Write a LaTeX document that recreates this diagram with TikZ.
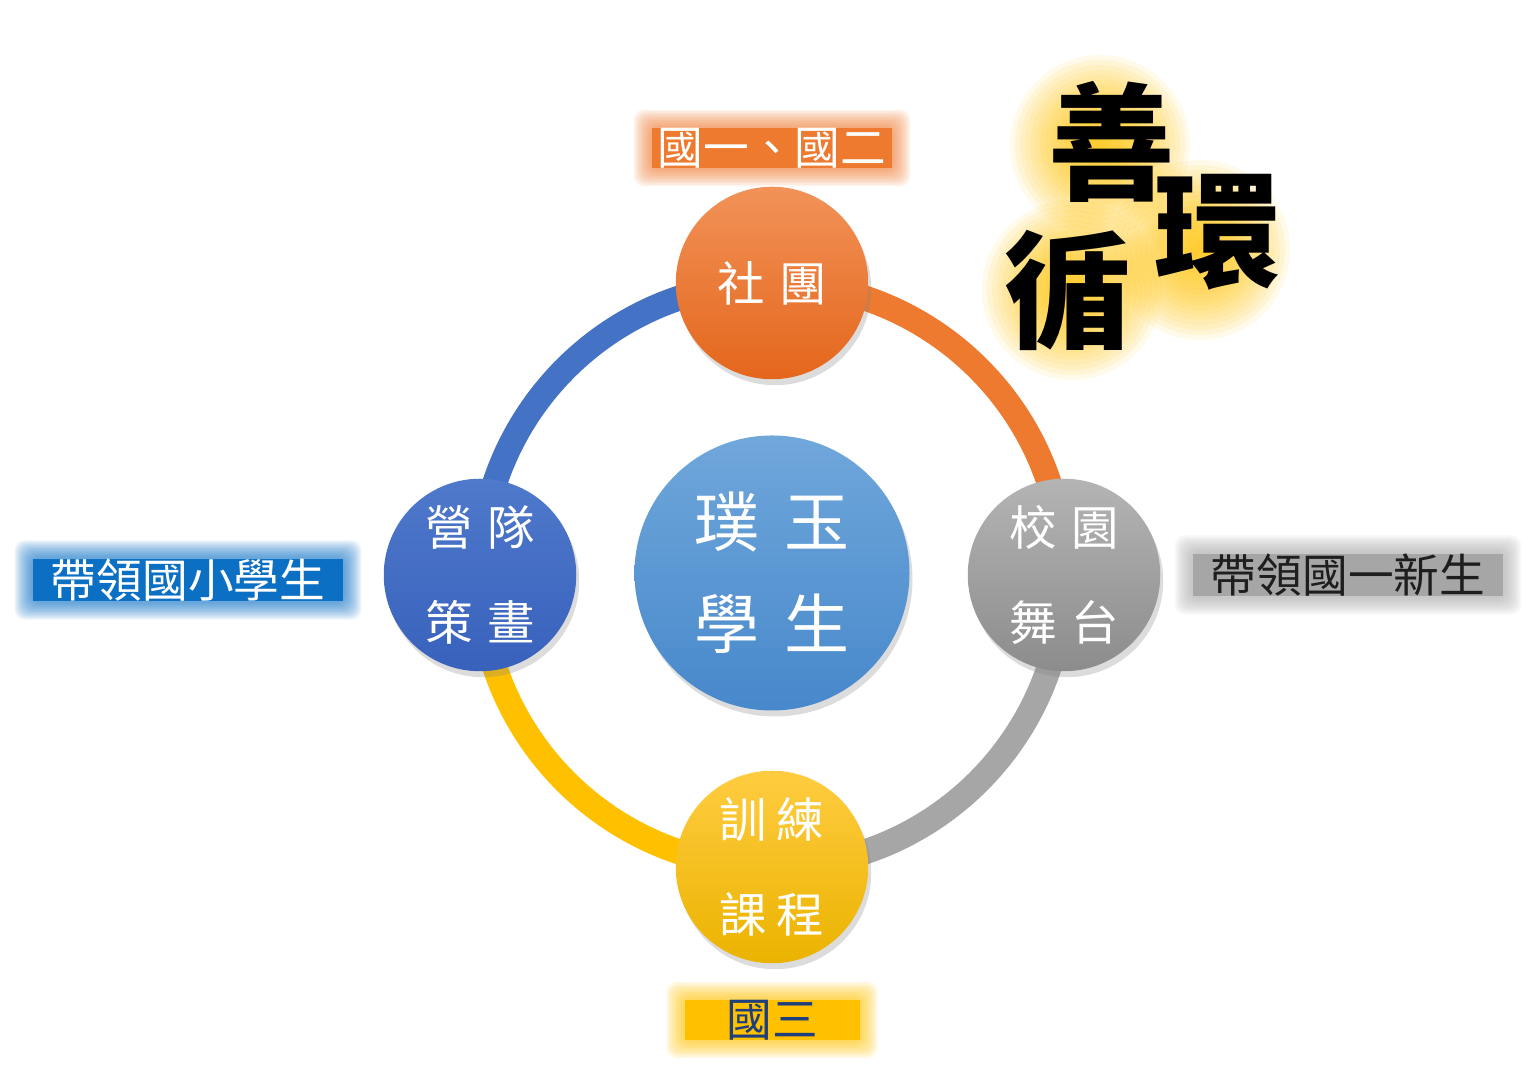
\documentclass[tikz,border=0pt]{standalone}
\usepackage{fontspec}
\setmainfont{Noto Sans CJK TC}
\usetikzlibrary{shadows,backgrounds,calc}
\definecolor{ink}{HTML}{1E1E1E}
\definecolor{navy}{HTML}{1F3E7C}
\definecolor{orng}{HTML}{EE7A30}
\definecolor{orngl}{HTML}{F29258}
\definecolor{orngd}{HTML}{E4661C}
\definecolor{blu}{HTML}{4472C4}
\definecolor{blul}{HTML}{4F79CB}
\definecolor{blud}{HTML}{3861BC}
\definecolor{gry}{HTML}{A6A6A6}
\definecolor{gryl}{HTML}{B4B4B4}
\definecolor{gryd}{HTML}{8C8C8C}
\definecolor{gold}{HTML}{FFC000}
\definecolor{goldl}{HTML}{FFCC40}
\definecolor{goldd}{HTML}{EBB300}
\definecolor{sky}{HTML}{70A7DB}
\definecolor{skyd}{HTML}{4788CB}
\definecolor{sea}{HTML}{0B6FC3}

\begin{document}
\begin{tikzpicture}[x=0.2mm,y=0.2mm,
  ball/.style={circle,inner sep=0pt,minimum size=38.5mm,text=white,align=center,
    font=\fontsize{27}{54}\selectfont,
    drop shadow={opacity=.28,shadow xshift=.6mm,shadow yshift=-1.2mm}},
  ring/.style={line width=5mm},
  tag/.style={inner sep=0pt,minimum height=7.5mm,font=\fontsize{26}{26}\selectfont},
  glowy/.style={fill=gold,opacity=.085},
  brush/.style={inner sep=0pt,text=black,font=\fontsize{72}{72}\selectfont\bfseries}]
  \useasboundingbox (0,0) rectangle (1534,1080);

  \node[ball,top color=orngl,bottom color=orngd] (club) at (772,797) {社\hspace{3mm}團};
  \node[ball,top color=blul,bottom color=blud] (camp) at (480,505) {營\hspace{3mm}隊\\策\hspace{3mm}畫};
  \node[ball,top color=gryl,bottom color=gryd] (stage) at (1064,505) {校\hspace{3mm}園\\舞\hspace{3mm}台};
  \node[ball,top color=goldl,bottom color=goldd] (train) at (772,213) {訓\hspace{2mm}練\\課\hspace{2mm}程};
  \node[ball,minimum size=55mm,top color=sky,bottom color=skyd,
    font=\fontsize{37}{58}\selectfont] (core) at (772,507) {璞\hspace{5mm}玉\\學\hspace{5mm}生};

  \node[tag,fill=orng,text=white,minimum width=48mm] (grade12) at (772,932) {國一、國二};
  \node[tag,fill=sea,text=white,minimum width=62mm] (kids) at (188,500) {帶領國小學生};
  \node[tag,fill=gry,text=ink,minimum width=62mm] (fresh) at (1348,505) {帶領國一新生};
  \node[tag,fill=gold,text=navy,minimum width=35mm] (grade3) at (772,60) {國三};

  \begin{pgfonlayer}{background}
    \draw[ring,blu] (camp.center) arc[start angle=180,end angle=90,radius=58.4mm];
    \draw[ring,orng] (club.center) arc[start angle=90,end angle=0,radius=58.4mm];
    \draw[ring,gry] (stage.center) arc[start angle=0,end angle=-90,radius=58.4mm];
    \draw[ring,gold] (train.center) arc[start angle=270,end angle=180,radius=58.4mm];
    \foreach \n/\c in {grade12/orng,kids/sea,fresh/gry,grade3/gold}
      \foreach \g in {1,...,12}
        \fill[\c,opacity=.08,rounded corners=2mm]
          ($(\n.south west)+(-\g*.3mm,-\g*.3mm)$) rectangle ($(\n.north east)+(\g*.3mm,\g*.3mm)$);
    \foreach \p in {(1100,935),(1200,830),(1072,790)}
      \foreach \r in {1,...,18}
        \fill[glowy] \p circle[radius=\r*1mm];
  \end{pgfonlayer}

  \node[brush] (shan) at (1112,938) {善};
  \node[brush] (huan) at (1218,848) {環};
  \node[brush] (xun) at (1068,790) {循};
\end{tikzpicture}
\end{document}
